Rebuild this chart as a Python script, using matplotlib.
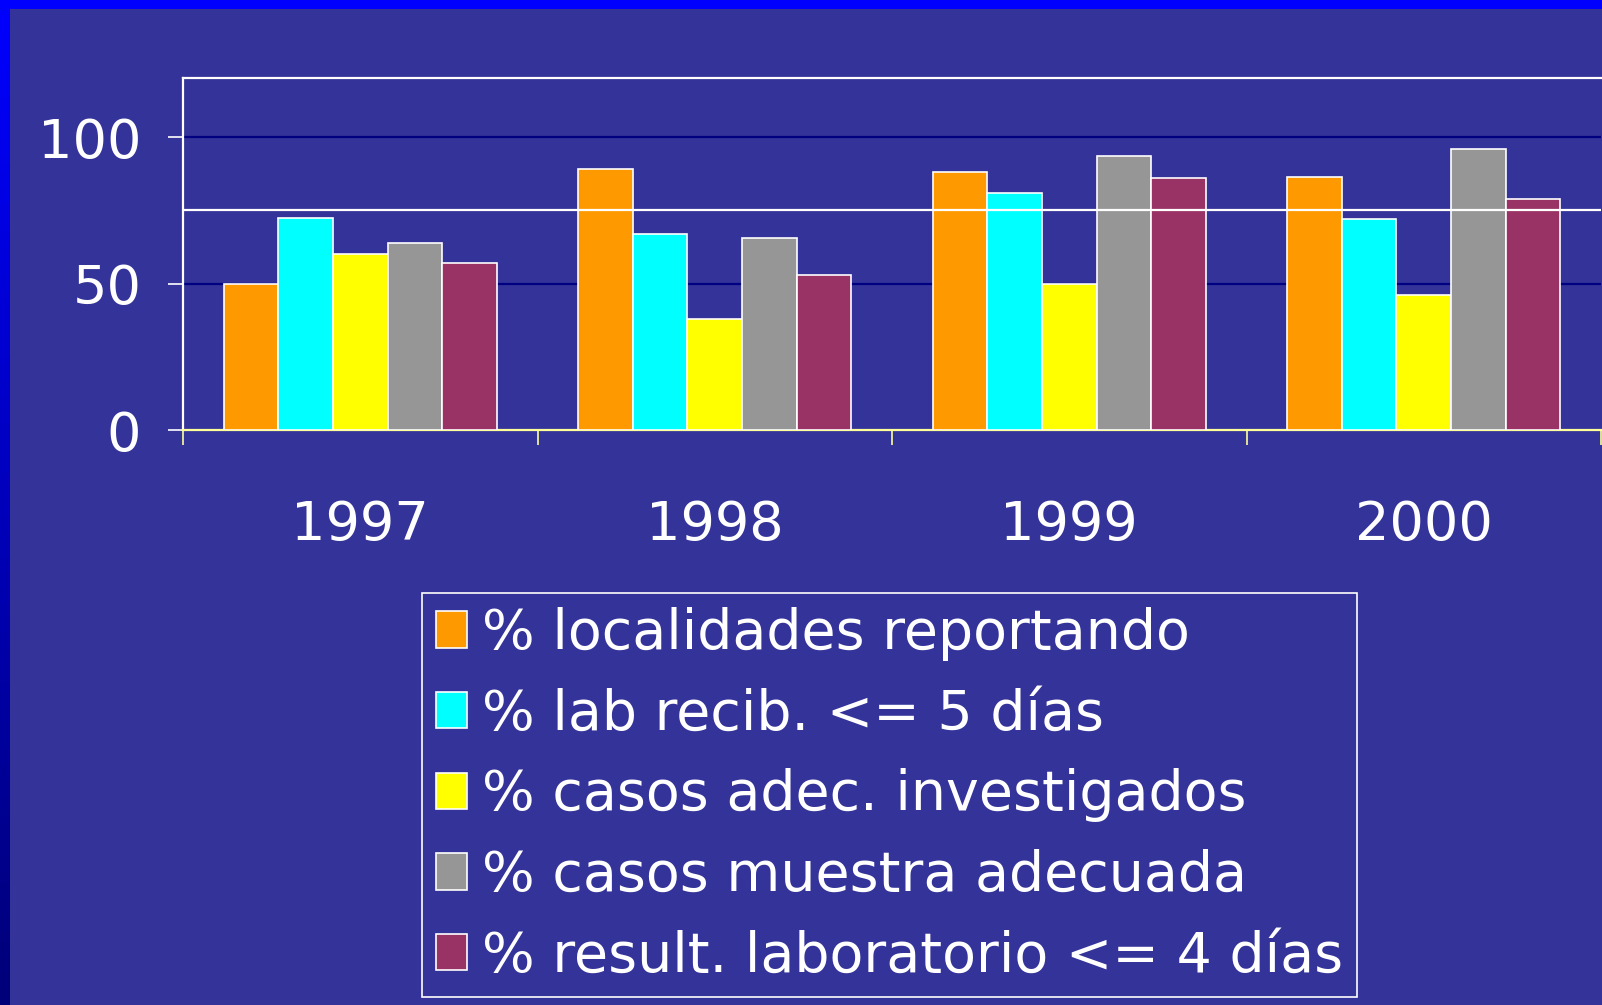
import numpy as np
import matplotlib
matplotlib.use("Agg")
import matplotlib.pyplot as plt
from matplotlib.colors import LinearSegmentedColormap

# data
years = ["1997", "1998", "1999", "2000"]
series_names = [
    "% localidades reportando",
    "% lab recib. <= 5 días",
    "% casos adec. investigados",
    "% casos muestra adecuada",
    "% result. laboratorio <= 4 días",
]
localidades = [50, 89, 88, 86.5]
lab_recib = [72.5, 67, 81, 72]
casos_investigados = [60, 38, 50, 46]
casos_muestra = [64, 65.5, 93.5, 96]
result_lab = [57, 53, 86, 79]
series = [localidades, lab_recib, casos_investigados, casos_muestra, result_lab]

colors = ["#FF9900", "#00FFFF", "#FFFF00", "#969696", "#993366"]
bg = "#333399"
y_ticks = [0, 50, 100]
y_max = 120
mid_line = 75  # white rule across the plot

plt.rcParams['font.family'] = ['DejaVu Sans']

fig = plt.figure(figsize=(16.02, 10.05), dpi=100, facecolor=bg)

# slide border: blue strip on top, gradient strip on the left
top = fig.add_axes([0, 1 - 9 / 1005, 1, 9 / 1005])
top.set_axis_off()
top.add_patch(plt.Rectangle((0, 0), 1, 1, color="#0000FF", transform=top.transAxes))

side = fig.add_axes([0, 0, 10 / 1602, 1])
cmap = LinearSegmentedColormap.from_list("edge", ["#000078", "#0000FF"])
side.imshow(np.linspace(0, 1, 256).reshape(-1, 1), cmap=cmap, aspect="auto", origin="lower")
side.set_axis_off()

ax = fig.add_axes([183 / 1602, 1 - 430 / 1005, (1601 - 183) / 1602, (430 - 78.5) / 1005])
ax.set_facecolor(bg)

x = np.arange(len(years))
w = 0.154
for i, (vals, name, c) in enumerate(zip(series, series_names, colors)):
    ax.bar(x + (i - 2) * w, vals, width=w, color=c, edgecolor="white",
           linewidth=1.2, label=name, zorder=3)

ax.set_xlim(-0.5, len(years) - 0.5)
ax.set_ylim(0, y_max)

for v in y_ticks[1:]:
    ax.axhline(v, color="#000080", linewidth=1.6, zorder=1)
ax.axhline(mid_line, color="white", linewidth=1.6, zorder=4)

ax.set_yticks(y_ticks)
ax.set_yticklabels([str(v) for v in y_ticks])
ax.tick_params(axis="y", colors="white", labelcolor="white", labelsize=39,
               length=11, width=1.2, pad=19)

ax.set_xticks(x)
ax.set_xticklabels(years)
ax.set_xticks(np.arange(len(years) + 1) - 0.5, minor=True)
ax.tick_params(axis="x", which="major", length=0, labelcolor="white",
               labelsize=39, pad=50)
ax.tick_params(axis="x", which="minor", length=11, width=1.2, color="#FFFF99")

for s in ["left", "top"]:
    ax.spines[s].set_color("white")
    ax.spines[s].set_linewidth(1.6)
ax.spines["bottom"].set_color("#FFFF99")
ax.spines["bottom"].set_linewidth(1.6)
ax.spines["right"].set_visible(False)

leg = fig.legend(loc="upper left", bbox_to_anchor=(422 / 1602, 1 - 593 / 1005),
                 frameon=True, fancybox=False, facecolor=bg, edgecolor="white",
                 framealpha=1, fontsize=40, labelcolor="white",
                 handlelength=0.56, handleheight=0.63, handletextpad=0.27,
                 labelspacing=0.48, borderpad=0.25, borderaxespad=0)
leg.get_frame().set_linewidth(1.2)

fig.savefig("out.png", dpi=100, facecolor=bg)
